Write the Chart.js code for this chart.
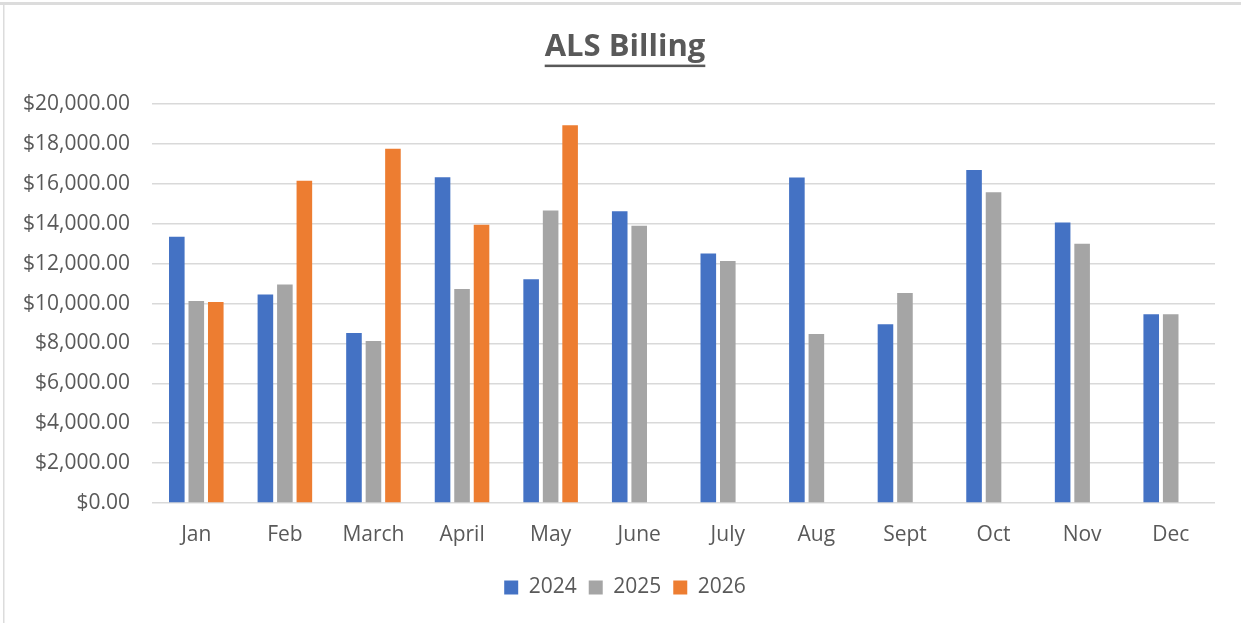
<!DOCTYPE html>
<html>
<head>
<meta charset="utf-8">
<script src="https://cdn.jsdelivr.net/npm/chart.js@4.4.1/dist/chart.umd.min.js"></script>
<style>
  html, body { margin: 0; padding: 0; background: #ffffff; }
  #wrap { width: 1241px; height: 623px; position: relative; }
</style>
</head>
<body>
<div id="wrap"><canvas id="c" width="1241" height="623"></canvas></div>
<script>
const categories = ["Jan", "Feb", "March", "April", "May", "June", "July", "Aug", "Sept", "Oct", "Nov", "Dec"];
const values2024 = [13350, 10460, 8520, 16340, 11220, 14630, 12510, 16330, 8970, 16700, 14070, 9470];
const values2025 = [10130, 10960, 8130, 10730, 14670, 13900, 12140, 8480, 10530, 15590, 13000, 9470];
const values2026 = [10080, 16160, 17770, 13950, 18940, null, null, null, null, null, null, null];
const seriesLabels = ["2024", "2025", "2026"];
const yTicks = [0, 2000, 4000, 6000, 8000, 10000, 12000, 14000, 16000, 18000, 20000];

const TEXT = "#595959";
const FONT = "'Open Sans', 'Noto Sans', sans-serif";

const framePlugin = {
  id: "frame",
  beforeDraw(chart) {
    const ctx = chart.ctx;
    ctx.save();
    ctx.fillStyle = "#ffffff";
    ctx.fillRect(0, 0, chart.width, chart.height);
    ctx.fillStyle = "#dcdcdc";
    ctx.fillRect(0, 2, chart.width, 3);
    ctx.fillRect(3, 2, 1.5, chart.height - 2);
    ctx.restore();
  },
  afterLayout(chart) {
    // let the y tick labels extend into the left padding without clipping
    if (chart.scales.y) chart.scales.y.left = 0;
  }
};

const underlinePlugin = {
  id: "titleUnderline",
  afterDraw(chart) {
    const t = chart.titleBlock;
    if (!t) return;
    const ctx = chart.ctx;
    const opts = chart.options.plugins.title;
    ctx.save();
    ctx.font = "bold " + opts.font.size + "px " + FONT;
    const w = ctx.measureText(opts.text).width;
    const cx = (t.left + t.right) / 2;
    const midY = t.top + opts.padding.top + (opts.font.size * 1.2) / 2;
    ctx.fillStyle = TEXT;
    ctx.fillRect(cx - w / 2, midY + 17, w, 2.5);
    ctx.restore();
  }
};

new Chart(document.getElementById("c"), {
  type: "bar",
  data: {
    labels: categories,
    datasets: [
      { label: seriesLabels[0], data: values2024, backgroundColor: "#4472C4" },
      { label: seriesLabels[1], data: values2025, backgroundColor: "#A5A5A5" },
      { label: seriesLabels[2], data: values2026, backgroundColor: "#ED7D31" }
    ]
  },
  options: {
    responsive: false,
    animation: false,
    devicePixelRatio: 1,
    layout: { padding: { left: 35, right: 26, top: 0, bottom: 15 } },
    datasets: { bar: { categoryPercentage: 0.66, barPercentage: 0.8 } },
    scales: {
      x: {
        grid: { display: false },
        border: { display: false },
        ticks: { color: TEXT, font: { family: FONT, size: 21 }, padding: 11, maxRotation: 0 },
        afterFit(scale) { scale.height = 62; }
      },
      y: {
        min: 0, max: 20000,
        afterBuildTicks(scale) { scale.ticks = yTicks.map(v => ({ value: v })); },
        grid: { color: "#d9d9d9", lineWidth: 1.5, drawTicks: false },
        border: { display: false },
        ticks: {
          color: TEXT, font: { family: FONT, size: 21 }, padding: 22,
          callback: v => "$" + Number(v).toLocaleString("en-US", { minimumFractionDigits: 2, maximumFractionDigits: 2 })
        },
        afterFit(scale) { scale.width = 117; }
      }
    },
    plugins: {
      title: {
        display: true, text: "ALS Billing", color: TEXT,
        font: { family: FONT, size: 31, weight: "bold" },
        padding: { top: 29, bottom: 38 }
      },
      legend: {
        position: "bottom",
        labels: { color: TEXT, font: { family: FONT, size: 21 }, boxWidth: 14, boxHeight: 14, padding: 12 }
      },
      tooltip: { enabled: false }
    }
  },
  plugins: [framePlugin, underlinePlugin]
});
</script>
</body>
</html>
